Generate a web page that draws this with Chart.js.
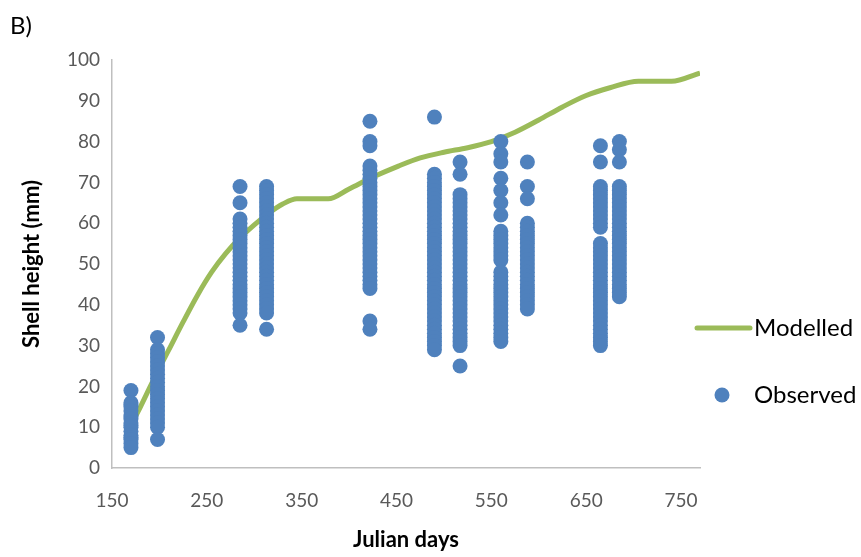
<!DOCTYPE html>
<html>
<head>
<meta charset="utf-8">
<script src="https://cdn.jsdelivr.net/npm/chart.js@4/dist/chart.umd.min.js"></script>
<style>
  html, body { margin: 0; padding: 0; background: #ffffff; }
  #wrap { width: 861px; height: 557px; }
</style>
</head>
<body>
<div id="wrap"><canvas id="c" width="861" height="557"></canvas></div>
<script>
// Von Bertalanffy style growth curve (modelled shell height, mm)
const modelDays    = [170, 180, 190, 200, 210, 225, 240, 255, 270, 285, 300, 315, 330, 345, 378, 400, 425, 452, 475, 500, 525, 550, 575, 600, 625, 650, 675, 705, 740, 770];
const modelHeights = [10.5, 15, 19.8, 24.5, 29, 35.8, 42.3, 48, 52.6, 56.4, 59.6, 62.4, 64.7, 66, 66, 68.4, 71.3, 74, 76, 77.4, 78.5, 80, 82.3, 85.3, 88.5, 91.3, 93.2, 94.8, 94.8, 96.8];

// Sampling dates (Julian days) and measured shell heights (mm) for each date
const obsDays = [170, 198, 285, 313, 422, 490, 517, 560, 588, 665, 685];
const obsHeights = [
  [19, 16, 15.5, 15, 14, 13, 12.5, 12, 11, 10.5, 10, 9, 8, 7.5, 7, 6, 5],
  [32, 29, 28, 27, 26, 25, 24, 23, 22, 21, 20, 19, 18, 17, 16, 15, 14, 13, 12, 11, 10, 7],
  [69, 65, 61, 60, 59, 58, 57, 56, 55, 54, 53, 52, 51, 50, 49, 48, 47, 46, 45, 44, 43, 42, 41, 40, 39, 38, 35],
  [69, 68, 67, 66, 65, 64, 63, 62, 61, 60, 59, 58, 57, 56, 55, 54, 53, 52, 51, 50, 49, 48, 47, 46, 45, 44, 43, 42, 41, 40, 39, 38, 34],
  [85, 80, 79, 74, 73, 72, 71, 70, 69, 68, 67, 66, 65, 64, 63, 62, 61, 60, 59, 58, 57, 56, 55, 54, 53, 52, 51, 50, 49, 48, 47, 46, 45, 44, 36, 34],
  [86, 72, 71, 70, 69, 68, 67, 66, 65, 64, 63, 62, 61, 60, 59, 58, 57, 56, 55, 54, 53, 52, 51, 50, 49, 48, 47, 46, 45, 44, 43, 42, 41, 40, 39, 38, 37, 36, 35, 34, 33, 32, 31, 30, 29],
  [75, 72, 67, 66, 65, 64, 63, 62, 61, 60, 59, 58, 57, 56, 55, 54, 53, 52, 51, 50, 49, 48, 47, 46, 45, 44, 43, 42, 41, 40, 39, 38, 37, 36, 35, 34, 33, 32, 31, 30, 25],
  [80, 77, 75, 71, 68, 65, 62, 58, 57, 56, 55, 54, 53, 52, 51, 48, 47, 46, 45, 44, 43, 42, 41, 40, 39, 38, 37, 36, 35, 34, 33, 32, 31],
  [75, 69, 66, 60, 59, 58, 57, 56, 55, 54, 53, 52, 51, 50, 49, 48, 47, 46, 45, 44, 43, 42, 41, 40, 39],
  [79, 75, 69, 68, 67, 66, 65, 64, 63, 62, 61, 60, 59, 55, 54, 53, 52, 51, 50, 49, 48, 47, 46, 45, 44, 43, 42, 41, 40, 39, 38, 37, 36, 35, 34, 33, 32, 31, 30],
  [80, 78, 75, 69, 68, 67, 66, 65, 64, 63, 62, 61, 60, 59, 58, 57, 56, 55, 54, 53, 52, 51, 50, 49, 48, 47, 46, 45, 44, 43, 42]
];

const xTicks = [150, 250, 350, 450, 550, 650, 750];
const yTicks = [0, 10, 20, 30, 40, 50, 60, 70, 80, 90, 100];

const GREEN = '#9BBB59';
const BLUE = '#4F81BD';
const FONT = 'Lato, "Open Sans", sans-serif';

const modelPoints = modelDays.map((d, i) => ({ x: d, y: modelHeights[i] }));
const obsPoints = [];
obsDays.forEach((d, i) => obsHeights[i].forEach(h => obsPoints.push({ x: d, y: h })));

// Panel tag and the legend on the right-hand side
const decorations = {
  id: 'decorations',
  afterDraw(chart) {
    const ctx = chart.ctx;
    ctx.save();
    ctx.fillStyle = '#000000';
    ctx.textBaseline = 'middle';
    ctx.textAlign = 'left';
    ctx.font = '24px ' + FONT;
    ctx.fillText('B)', 10, 26);

    // Modelled entry
    ctx.strokeStyle = GREEN;
    ctx.lineWidth = 5;
    ctx.lineCap = 'round';
    ctx.beginPath();
    ctx.moveTo(697, 328);
    ctx.lineTo(750, 328);
    ctx.stroke();
    ctx.font = '24px ' + FONT;
    ctx.fillText(chart.data.datasets[1].label, 754, 328);

    // Observed entry
    ctx.fillStyle = BLUE;
    ctx.beginPath();
    ctx.arc(722, 395, 7.5, 0, Math.PI * 2);
    ctx.fill();
    ctx.fillStyle = '#000000';
    ctx.fillText(chart.data.datasets[0].label, 754, 395);
    ctx.restore();
  }
};

new Chart(document.getElementById('c'), {
  type: 'scatter',
  data: {
    datasets: [
      {
        label: 'Observed',
        data: obsPoints,
        backgroundColor: BLUE,
        borderWidth: 0,
        pointRadius: 7.5,
        pointHoverRadius: 7.5,
        order: 0
      },
      {
        type: 'line',
        label: 'Modelled',
        data: modelPoints,
        borderColor: GREEN,
        borderWidth: 5,
        pointRadius: 0,
        fill: false,
        cubicInterpolationMode: 'monotone',
        order: 1
      }
    ]
  },
  options: {
    responsive: false,
    animation: false,
    devicePixelRatio: 1,
    layout: { padding: { top: 60, right: 161, bottom: 0, left: 0 } },
    plugins: {
      legend: { display: false },
      tooltip: { enabled: false }
    },
    scales: {
      x: {
        type: 'linear',
        min: 150,
        max: 770,
        afterBuildTicks(scale) { scale.ticks = xTicks.map(v => ({ value: v })); },
        afterFit(scale) { scale.height = 89; },
        grid: { display: false, drawTicks: false },
        border: { display: true, color: '#BFBFBF', width: 1.5 },
        ticks: { color: '#595959', font: { family: FONT, size: 19 }, padding: 21, maxRotation: 0 },
        title: { display: true, text: 'Julian days', color: '#000000', font: { family: FONT, size: 22, weight: 'bold' }, padding: { top: 0, bottom: 4 } }
      },
      y: {
        min: 0,
        max: 100,
        afterBuildTicks(scale) { scale.ticks = yTicks.map(v => ({ value: v })); },
        afterFit(scale) { scale.width = 112; },
        grid: { display: false, drawTicks: false },
        border: { display: true, color: '#BFBFBF', width: 1.5 },
        ticks: { color: '#595959', font: { family: FONT, size: 19 }, padding: 12 },
        title: { display: true, text: 'Shell height (mm)', color: '#000000', font: { family: FONT, size: 22, weight: 'bold' }, padding: { top: 19, bottom: 0 } }
      }
    }
  },
  plugins: [decorations]
});
</script>
</body>
</html>
